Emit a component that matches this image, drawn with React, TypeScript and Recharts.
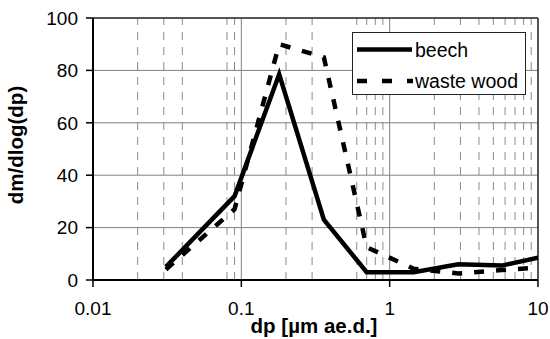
import React from 'react';
import { LineChart, Line, XAxis, YAxis, CartesianGrid, ReferenceLine, Legend } from 'recharts';

const sizes = [0.031, 0.09, 0.18, 0.36, 0.7, 1.45, 2.9, 5.7, 10];
const beech = [5, 32, 78.5, 23, 3, 3, 6, 5.5, 8.5];
const wasteWood = [4, 27, 90, 85, 12.5, 4.3, 2.5, 3.8, 4.7];

const xTicks = [0.01, 0.1, 1, 10];
const yTicks = [0, 20, 40, 60, 80, 100];
const minorGrid = [0.02, 0.03, 0.04, 0.08, 0.09, 0.2, 0.3, 0.6, 0.7, 0.8, 0.9, 2, 3, 4, 5, 6, 7, 8, 9];
const seriesNames = ['beech', 'waste wood'];

const data = sizes.map((dp, i) => ({ dp, beech: beech[i], waste: wasteWood[i] }));

const FONT = '"Liberation Sans", Arial, sans-serif';

const renderLegend = () => (
  <div
    style={{
      width: 174,
      height: 63,
      border: '1.5px solid #222',
      background: '#fff',
      boxSizing: 'border-box',
      position: 'relative',
    }}
  >
    <svg width={172} height={61} style={{ position: 'absolute', left: 0, top: 0 }}>
      <line x1={4} x2={59} y1={16.5} y2={16.5} stroke="#000" strokeWidth={4.5} />
      <line x1={4} x2={60} y1={48} y2={48} stroke="#000" strokeWidth={4.5} strokeDasharray="10 15" />
      <text x={62} y={23.5} fontFamily={FONT} fontSize={19.5} fill="#000">{seriesNames[0]}</text>
      <text x={62} y={55} fontFamily={FONT} fontSize={19.5} fill="#000">{seriesNames[1]}</text>
    </svg>
  </div>
);

const XTitle = (props: any) => {
  const vb = props.viewBox;
  return (
    <text
      x={vb.x + vb.width / 2 - 1.5}
      y={vb.y + 53}
      textAnchor="middle"
      fontFamily={FONT}
      fontWeight="bold"
      fontSize={20.5}
      fill="#000"
    >
      dp [µm ae.d.]
    </text>
  );
};

const YTitle = (props: any) => {
  const vb = props.viewBox;
  const cx = 23;
  const cy = vb.y + vb.height / 2 - 4;
  return (
    <text
      x={cx}
      y={cy}
      textAnchor="middle"
      transform={`rotate(-90 ${cx} ${cy})`}
      fontFamily={FONT}
      fontWeight="bold"
      fontSize={20.5}
      fill="#000"
    >
      dm/dlog(dp)
    </text>
  );
};

export default function App() {
  return (
    <div style={{ position: 'absolute', left: 0, top: 0, width: 550, height: 339, background: '#fff' }}>
      <LineChart width={550} height={339} data={data} margin={{ top: 18, right: 12, bottom: 0, left: 0 }}>
        <CartesianGrid stroke="#808080" strokeWidth={1} />
        {minorGrid.map((v) => (
          <ReferenceLine key={v} x={v} stroke="#8a8a8a" strokeWidth={1} strokeDasharray="8 7" />
        ))}
        <ReferenceLine y={100} stroke="#333" strokeWidth={1.5} />
        <ReferenceLine x={10} stroke="#333" strokeWidth={1.5} />
        <XAxis
          dataKey="dp"
          type="number"
          scale="log"
          domain={[0.01, 10]}
          ticks={xTicks}
          allowDataOverflow
          tickFormatter={(v: number) => String(v)}
          tick={{ fontFamily: FONT, fontSize: 19, fill: '#000' }}
          tickSize={7}
          tickMargin={15}
          axisLine={{ stroke: '#000', strokeWidth: 2 }}
          tickLine={{ stroke: '#000', strokeWidth: 1.5 }}
          height={59}
          label={<XTitle />}
        />
        <YAxis
          type="number"
          domain={[0, 100]}
          ticks={yTicks}
          width={93}
          tick={{ fontFamily: FONT, fontSize: 19, fill: '#000' }}
          tickSize={7}
          tickMargin={8}
          axisLine={{ stroke: '#000', strokeWidth: 2 }}
          tickLine={{ stroke: '#000', strokeWidth: 1.5 }}
          label={<YTitle />}
        />
        <Legend
          layout="vertical"
          verticalAlign="middle"
          align="center"
          content={renderLegend}
          wrapperStyle={{ left: 352, top: 32, width: 175, height: 64 }}
        />
        <Line
          dataKey="beech"
          name={seriesNames[0]}
          stroke="#000"
          strokeWidth={4.5}
          dot={false}
          isAnimationActive={false}
          type="linear"
        />
        <Line
          dataKey="waste"
          name={seriesNames[1]}
          stroke="#000"
          strokeWidth={4.5}
          strokeDasharray="10 12"
          dot={false}
          isAnimationActive={false}
          type="linear"
        />
      </LineChart>
    </div>
  );
}
